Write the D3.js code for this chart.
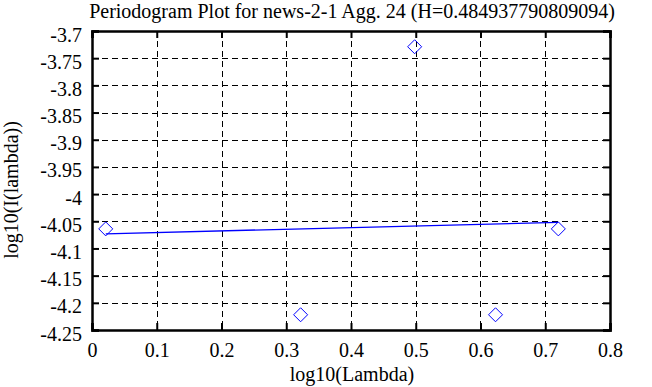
<!DOCTYPE html>
<html>
<head>
<meta charset="utf-8">
<script src="https://cdn.jsdelivr.net/npm/d3@7"></script>
<style>
  body { margin: 0; background: #fff; }
</style>
</head>
<body>
<script>
// periodogram points
var logLambda = [0.0212, 0.3222, 0.4983, 0.6232, 0.7202];
var logI = [-4.064, -4.222, -3.729, -4.222, -4.064];

// fitted line end points
var fitX = [0.0212, 0.7202];
var fitY = [-4.073, -4.052];

var xTicks = [0, 0.1, 0.2, 0.3, 0.4, 0.5, 0.6, 0.7, 0.8];
var yTicks = [-3.7, -3.75, -3.8, -3.85, -3.9, -3.95, -4, -4.05, -4.1, -4.15, -4.2, -4.25];

var width = 652, height = 387;
var margin = {top: 31, right: 42, bottom: 57, left: 92};

var svg = d3.select('body').append('svg')
  .attr('width', width)
  .attr('height', height);

var x = d3.scaleLinear().domain([0, 0.8]).range([margin.left, width - margin.right]);
var y = d3.scaleLinear().domain([-4.25, -3.7]).range([height - margin.bottom, margin.top]);

// dashed grid
svg.append('g').selectAll('line')
  .data(xTicks.slice(1, -1))
  .enter().append('line')
  .attr('x1', function(d) { return Math.round(x(d)) + 0.5; })
  .attr('x2', function(d) { return Math.round(x(d)) + 0.5; })
  .attr('y1', y(-3.7))
  .attr('y2', y(-4.25))
  .attr('stroke', '#000')
  .attr('stroke-dasharray', '6,4');

svg.append('g').selectAll('line')
  .data(yTicks.slice(1, -1))
  .enter().append('line')
  .attr('y1', function(d) { return Math.round(y(d)) + 0.5; })
  .attr('y2', function(d) { return Math.round(y(d)) + 0.5; })
  .attr('x1', x(0))
  .attr('x2', x(0.8))
  .attr('stroke', '#000')
  .attr('stroke-dasharray', '6,4');

// axes with inward ticks on all four sides
var fmt = function(d) { return String(+d.toFixed(2)); };

var axBottom = svg.append('g')
  .attr('transform', 'translate(0,' + y(-4.25) + ')')
  .call(d3.axisBottom(x).tickValues(xTicks).tickSize(-7).tickPadding(13).tickFormat(fmt));
var axLeft = svg.append('g')
  .attr('transform', 'translate(' + x(0) + ',0)')
  .call(d3.axisLeft(y).tickValues(yTicks).tickSize(-7).tickPadding(10).tickFormat(fmt));
var axTop = svg.append('g')
  .attr('transform', 'translate(0,' + y(-3.7) + ')')
  .call(d3.axisTop(x).tickValues(xTicks).tickSize(-7).tickFormat(''));
var axRight = svg.append('g')
  .attr('transform', 'translate(' + x(0.8) + ',0)')
  .call(d3.axisRight(y).tickValues(yTicks).tickSize(-7).tickFormat(''));

[axBottom, axLeft, axTop, axRight].forEach(function(g) {
  g.selectAll('path').attr('stroke', '#000').attr('stroke-width', 2.5);
  g.selectAll('line').attr('stroke', '#000').attr('stroke-width', 2);
  g.selectAll('text').attr('fill', '#000');
});
axLeft.selectAll('text').attr('dy', '0.5em');

// fitted line
svg.append('path')
  .datum(d3.zip(fitX, fitY))
  .attr('d', d3.line().x(function(d) { return x(d[0]); }).y(function(d) { return y(d[1]); }))
  .attr('fill', 'none')
  .attr('stroke', '#0000ff')
  .attr('stroke-width', 1.3);

// diamonds
svg.append('g').selectAll('path')
  .data(d3.zip(logLambda, logI))
  .enter().append('path')
  .attr('transform', function(d) { return 'translate(' + x(d[0]) + ',' + y(d[1]) + ')'; })
  .attr('d', 'M0,-7L7,0L0,7L-7,0Z')
  .attr('fill', 'none')
  .attr('stroke', '#0000ff')
  .attr('stroke-width', 1);

// titles
svg.append('text')
  .attr('x', 352)
  .attr('y', 18)
  .attr('text-anchor', 'middle')
  .text('Periodogram Plot for news-2-1 Agg. 24 (H=0.484937790809094)');

svg.append('text')
  .attr('x', 352)
  .attr('y', 381)
  .attr('text-anchor', 'middle')
  .text('log10(Lambda)');

svg.append('text')
  .attr('transform', 'translate(18,190) rotate(-90)')
  .attr('text-anchor', 'middle')
  .text('log10(I(lambda))');

// every label in the serif face
svg.selectAll('text')
  .style('font-family', '"Liberation Serif"')
  .style('font-size', '20px');
</script>
</body>
</html>
